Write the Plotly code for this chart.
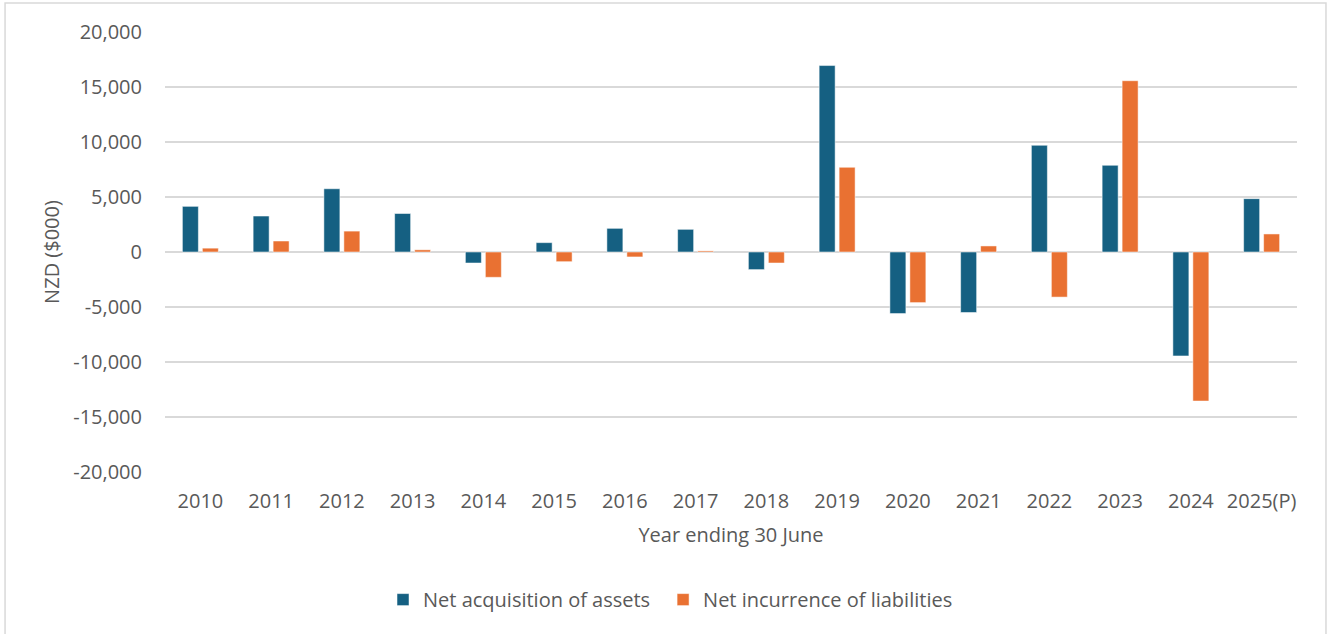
import plotly.graph_objects as go

years = ["2010", "2011", "2012", "2013", "2014", "2015", "2016", "2017",
         "2018", "2019", "2020", "2021", "2022", "2023", "2024", "2025(P)"]
assets = [4150, 3270, 5750, 3500, -1000, 850, 2150, 2060,
          -1600, 16950, -5600, -5500, 9700, 7880, -9450, 4850]
liabilities = [350, 1000, 1900, 200, -2300, -880, -450, 100,
               -1000, 7700, -4600, 550, -4100, 15570, -13550, 1640]
y_ticks = [-20000, -15000, -10000, -5000, 0, 5000, 10000, 15000, 20000]
y_labels = ["-20,000", "-15,000", "-10,000", "-5,000", "0",
            "5,000", "10,000", "15,000", "20,000"]

FONT = "Open Sans"
TXT = "#595959"
FS = 20

fig = go.Figure()
fig.add_trace(go.Bar(x=years, y=assets, name="Net acquisition of assets", legend="legend",
                     marker=dict(color="#156082", line=dict(color="rgba(255,255,255,0.5)", width=1))))
fig.add_trace(go.Bar(x=years, y=liabilities, name="Net incurrence of liabilities", legend="legend2",
                     marker=dict(color="#E97132", line=dict(color="rgba(255,255,255,0.5)", width=1))))

leg_common = dict(orientation="h", y=-0.29, yanchor="middle", xanchor="left",
                  font=dict(size=FS, color=TXT), itemwidth=30, bgcolor="rgba(0,0,0,0)")

fig.update_layout(
    width=1330, height=634,
    margin=dict(l=165, r=33, t=32, b=162),
    paper_bgcolor="white", plot_bgcolor="white",
    barmode="group", bargap=0.435, bargroupgap=0.2,
    font=dict(family=FONT, size=FS, color=TXT),
    showlegend=True,
    legend=dict(x=0.1926, **leg_common),
    legend2=dict(x=0.4400, **leg_common),
    xaxis=dict(showgrid=False, showline=False, ticks="", ticklabelstandoff=15,
               tickfont=dict(size=FS, color=TXT),
               title=dict(text="Year ending 30 June", standoff=14, font=dict(size=FS, color=TXT))),
    yaxis=dict(range=[-20000, 20000], tickvals=y_ticks, ticktext=y_labels, showgrid=True,
               gridcolor="#D9D9D9", gridwidth=2, zeroline=True, zerolinecolor="#D9D9D9",
               zerolinewidth=2, showline=False, ticks="", ticklabelstandoff=22,
               tickfont=dict(size=FS, color=TXT),
               title=dict(text="NZD ($000)", standoff=8, font=dict(size=FS, color=TXT))),
    shapes=[dict(type="rect", xref="paper", yref="paper", x0=-0.1413, x1=1.0256,
                 y0=-0.5, y1=1.066, line=dict(color="#D9D9D9", width=1.5),
                 fillcolor="rgba(0,0,0,0)", layer="below")],
)

fig.write_html("out.html", config={"displayModeBar": False},
               post_script="document.body.style.margin='0';")
